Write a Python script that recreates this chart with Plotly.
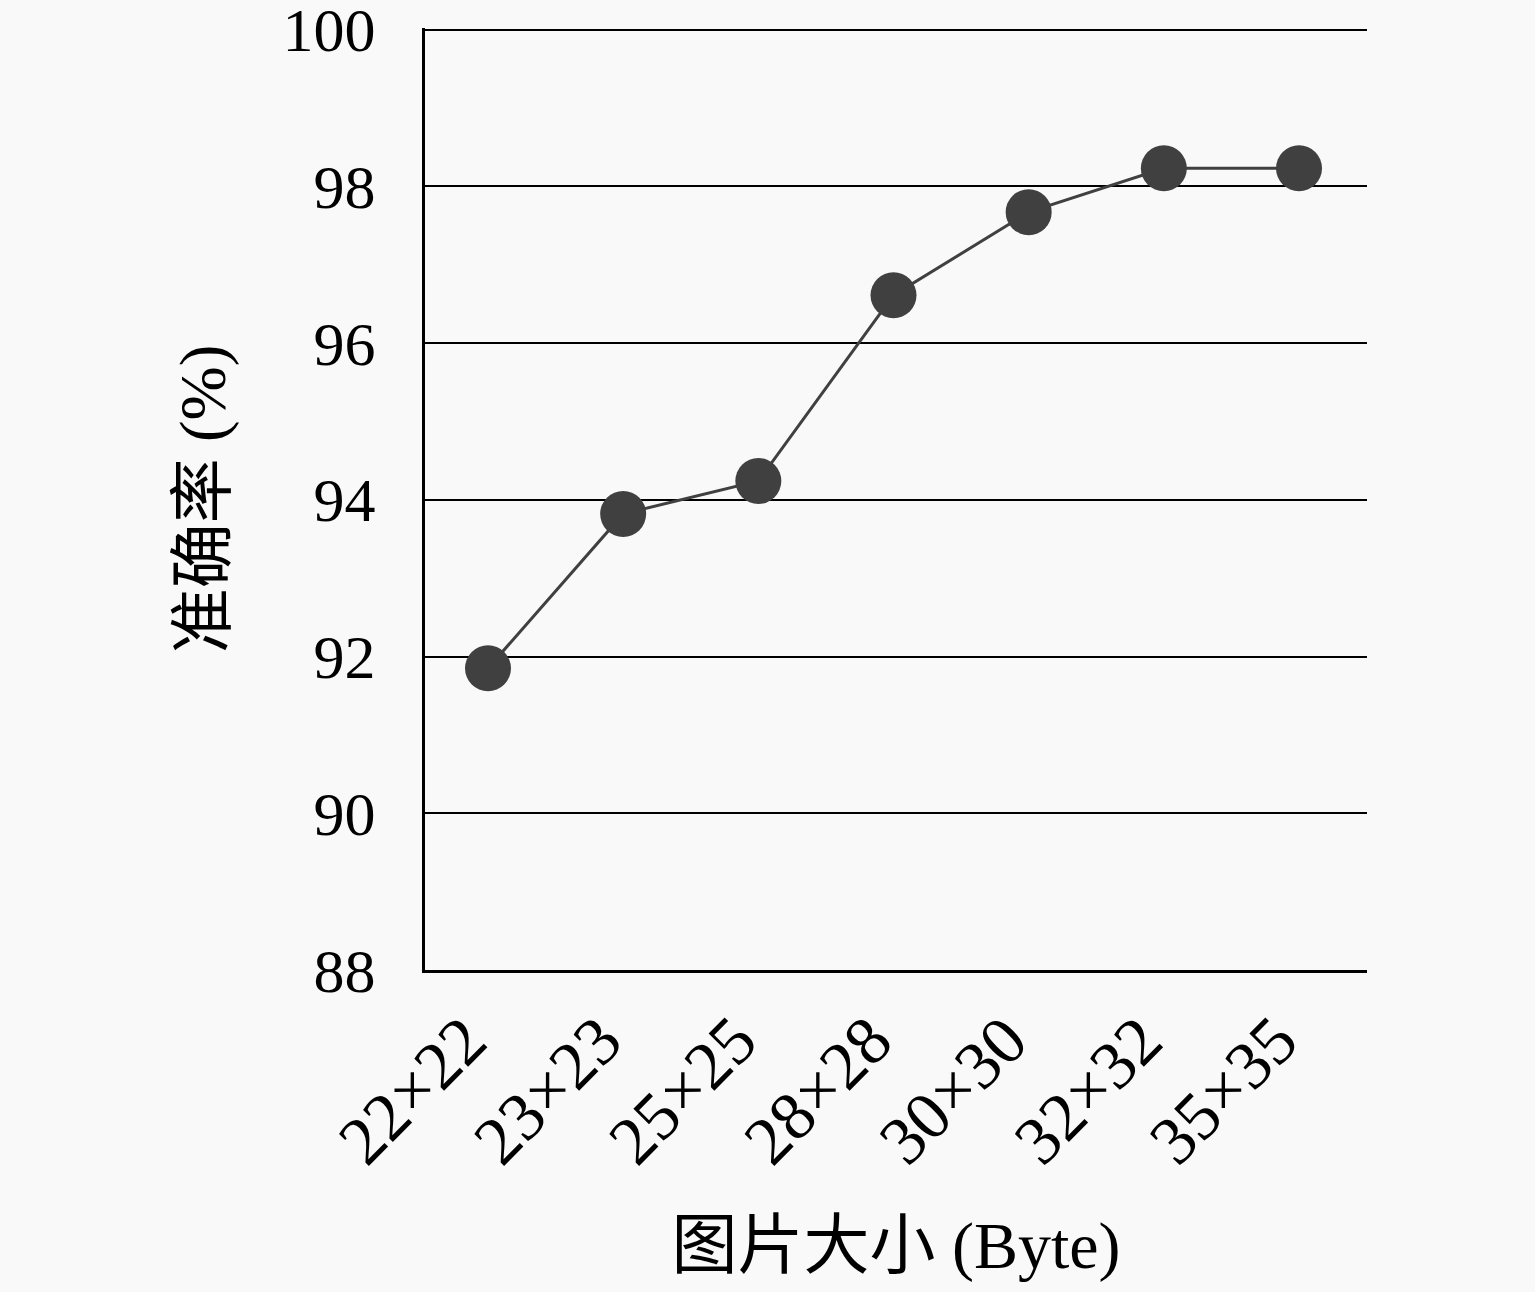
import plotly.graph_objects as go

sizes = ["22×22", "23×23", "25×25", "28×28", "30×30", "32×32", "35×35"]
accuracy = [91.85, 93.82, 94.24, 96.61, 97.67, 98.23, 98.23]
y_ticks = [88, 90, 92, 94, 96, 98, 100]

fuente = "Liberation Serif, Noto Sans CJK SC, serif"
fondo = "#f9f9f9"

fig = go.Figure()
fig.add_trace(go.Scatter(
    x=sizes, y=accuracy, mode="lines+markers",
    line=dict(color="#404040", width=3),
    marker=dict(color="#404040", size=46),
))

fig.update_layout(
    width=1535, height=1292,
    margin=dict(l=425, r=168, t=28, b=322),
    paper_bgcolor=fondo, plot_bgcolor=fondo,
    font=dict(family=fuente, size=62, color="black"),
    showlegend=False,
)
fig.update_xaxes(
    type="category", tickangle=-45, range=[-0.466, 6.503],
    showline=True, linecolor="black", linewidth=3,
    showgrid=False, ticks="", ticklabelshift=-22,
    tickfont=dict(size=68), automargin=False,
    title=dict(text="图片大小 (Byte)", font=dict(size=66), standoff=45),
)
fig.update_yaxes(
    range=[88, 100.02], tickvals=y_ticks,
    showline=True, linecolor="black", linewidth=3,
    showgrid=True, gridcolor="black", gridwidth=1.5,
    zeroline=False, ticks="", ticklabelstandoff=34,
    ticklabeloverflow="allow", automargin=False,
    tickfont=dict(size=62),
    title=dict(text="准确率 (%)", font=dict(size=65), standoff=36),
)

fig.write_html(
    "out.html",
    config={"displayModeBar": False},
    post_script="document.body.style.margin='0';document.body.style.background='#f9f9f9';",
)
